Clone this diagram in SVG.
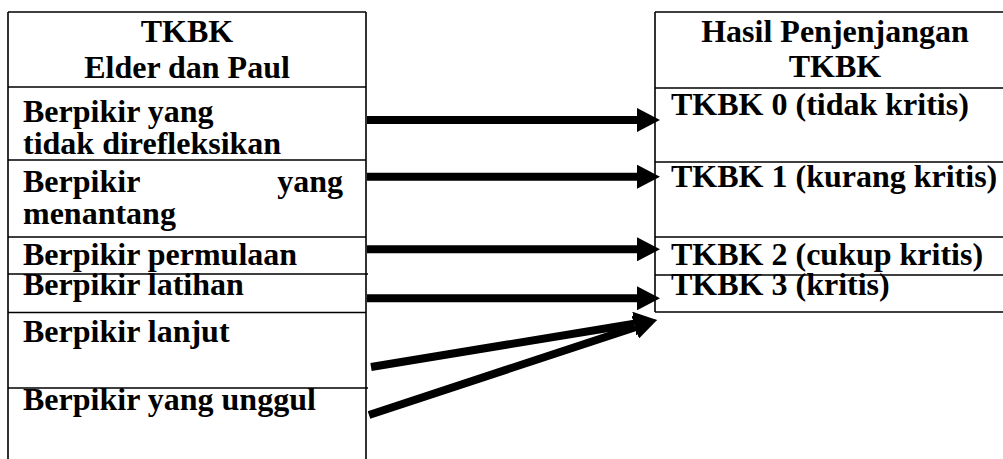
<svg xmlns="http://www.w3.org/2000/svg" width="1003" height="459" viewBox="0 0 1003 459">
<style>
  .grid{stroke:#000;stroke-width:1.6;fill:none}
  .t{font-family:"Liberation Serif","Times New Roman",serif;font-weight:700;font-size:32px;fill:#000}
  .c{text-anchor:middle}
  .arr{stroke:#000;stroke-width:8;fill:none;marker-end:url(#ah)}
</style>
<defs>
  <marker id="ah" markerUnits="userSpaceOnUse" markerWidth="24" markerHeight="24" refX="0" refY="12" orient="auto" viewBox="0 0 24 24">
    <path d="M0,0 L23,12 L0,24 Z" fill="#000"/>
  </marker>
</defs>
<rect width="1003" height="459" fill="#fff"/>
<g id="left-table">
  <path class="grid" d="M8,12 H366 M8,12 V459 M366,12 V459 M8,87 H366 M8,160 H366 M8,237 H366 M8,274 H368 M8,312.5 H366 M8,388 H368"/>
  <g id="left-header"><text class="t c" x="187" y="42">TKBK</text><text class="t c" x="187" y="78">Elder dan Paul</text></g>
  <g id="l1"><text class="t" x="23" y="121.5">Berpikir yang</text><text class="t" x="23" y="153.5">tidak direfleksikan</text></g>
  <g id="l2"><text class="t" x="23" y="191.5">Berpikir</text><text class="t" x="343" y="191.5" text-anchor="end">yang</text><text class="t" x="23" y="223.5">menantang</text></g>
  <g id="l3"><text class="t" x="23" y="265">Berpikir permulaan</text></g>
  <g id="l4"><text class="t" x="23" y="295">Berpikir latihan</text></g>
  <g id="l5"><text class="t" x="23" y="341.5">Berpikir lanjut</text></g>
  <g id="l6"><text class="t" x="23" y="410">Berpikir yang unggul</text></g>
</g>
<g id="right-table">
  <path class="grid" d="M655,12 H1003 M655,12 V312 M655,88 H1003 M655,162 H1003 M655,237 H1003 M655,275 H1003 M655,312 H1003"/>
  <g id="right-header"><text class="t c" x="835" y="41.5">Hasil Penjenjangan</text><text class="t c" x="835" y="76.5">TKBK</text></g>
  <g id="r0"><text class="t" x="671" y="115">TKBK 0 (tidak kritis)</text></g>
  <g id="r1"><text class="t" x="671" y="186.5">TKBK 1 (kurang kritis)</text></g>
  <g id="r2"><text class="t" x="671" y="265">TKBK 2 (cukup kritis)</text></g>
  <g id="r3"><text class="t" x="671" y="295">TKBK 3 (kritis)</text></g>
</g>
<g id="connectors">
  <line class="arr" x1="367" y1="120" x2="637" y2="120"/>
  <line class="arr" x1="367" y1="176.7" x2="637" y2="176.7"/>
  <line class="arr" x1="367" y1="249.3" x2="637" y2="249.3"/>
  <line class="arr" x1="367" y1="298.3" x2="637" y2="298.3"/>
  <line class="arr" x1="371" y1="367" x2="634.3" y2="323.7"/>
  <line class="arr" x1="369" y1="415" x2="635.2" y2="327.2"/>
</g>
</svg>
